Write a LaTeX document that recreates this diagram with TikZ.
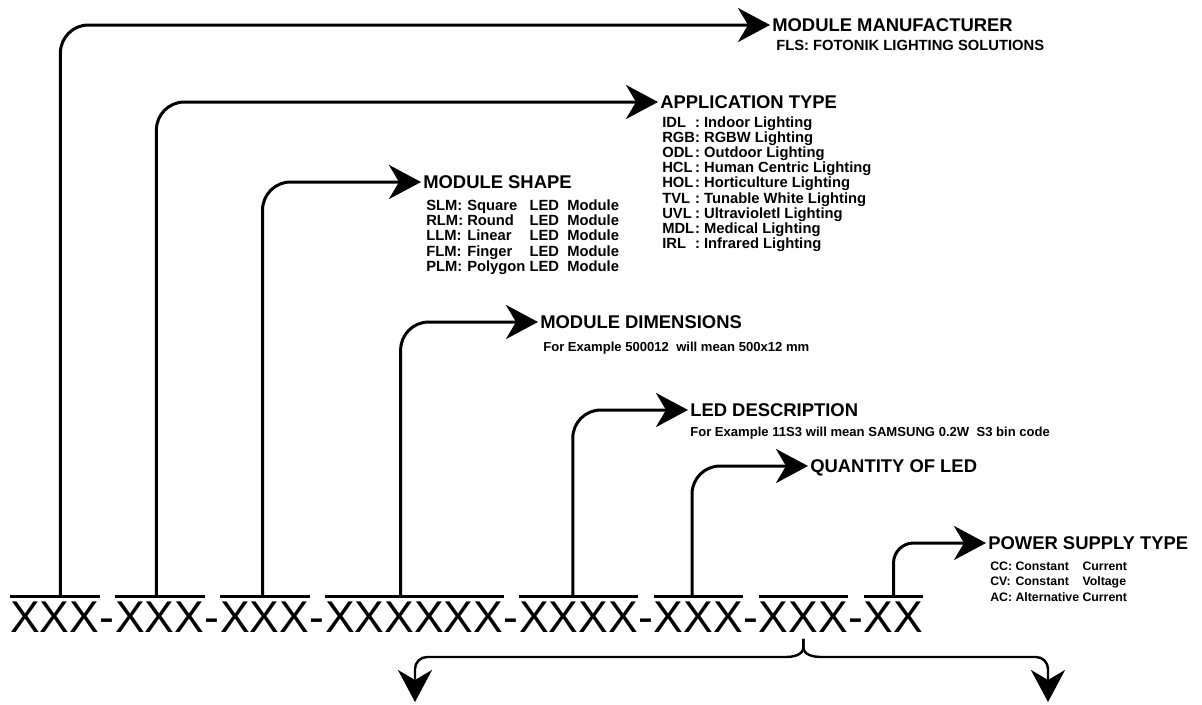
\documentclass[tikz,border=0pt]{standalone}
\usepackage{fontspec}
\setmainfont{Liberation Sans}
\usetikzlibrary{arrows.meta,positioning}
\newcommand{\HeadFont}{\fontsize{13.1pt}{15pt}\selectfont\bfseries}
\newcommand{\ListFont}{\fontsize{10.5pt}{10.75pt}\selectfont\bfseries}
\newcommand{\NoteFont}{\fontsize{9.3pt}{11pt}\selectfont\bfseries}
\newcommand{\PowerFont}{\fontsize{8.75pt}{11pt}\selectfont\bfseries}
\newcommand{\CodeFont}{\fontsize{31.65pt}{32pt}\selectfont}

\begin{document}
\begin{tikzpicture}[x=0.25mm, y=-0.25mm,
  code/.style={font=\CodeFont, inner sep=0pt, text height=22.7pt, text depth=0pt},
  head/.style={font=\HeadFont, anchor=west, inner xsep=0.5mm, inner ysep=0pt, text depth=0pt},
  note/.style={anchor=base west, inner sep=0pt},
  lead/.style={-{Stealth[length=8mm, width=8.5mm, inset=2.5mm]}, line width=0.75mm, rounded corners=7mm},
  bar/.style={line width=0.75mm}
]
\useasboundingbox (0,0) rectangle (1202,704);

% Part number
\node[code, anchor=base west] (g1) at (10,632.7) {XXX};
\node[code, right=0pt of g1] (d1) {-};
\node[code, right=0pt of d1] (g2) {XXX};
\node[code, right=0pt of g2] (d2) {-};
\node[code, right=0pt of d2] (g3) {XXX};
\node[code, right=0pt of g3] (d3) {-};
\node[code, right=0pt of d3] (g4) {XXXXXX};
\node[code, right=0pt of g4] (d4) {-};
\node[code, right=0pt of d4] (g5) {XXXX};
\node[code, right=0pt of g5] (d5) {-};
\node[code, right=0pt of d5] (g6) {XXX};
\node[code, right=0pt of g6] (d6) {-};
\node[code, right=0pt of d6] (g7) {XXX};
\node[code, right=0pt of g7] (d7) {-};
\node[code, right=0pt of d7] (g8) {XX};

% Bars over the groups
\draw[bar] ([yshift=1mm]g1.north west) -- ([yshift=1mm]g1.north east);
\draw[bar] ([yshift=1mm]g2.north west) -- ([yshift=1mm]g2.north east);
\draw[bar] ([yshift=1mm]g3.north west) -- ([yshift=1mm]g3.north east);
\draw[bar] ([yshift=1mm]g4.north west) -- ([yshift=1mm]g4.north east);
\draw[bar] ([yshift=1mm]g5.north west) -- ([yshift=1mm]g5.north east);
\draw[bar] ([yshift=1mm]g6.north west) -- ([yshift=1mm]g6.north east);
\draw[bar] ([yshift=1mm]g7.north west) -- ([yshift=1mm]g7.north east);
\draw[bar] ([yshift=1mm]g8.north west) -- ([yshift=1mm]g8.north east);

% Headings
\node[head] (manuf) at (770,25) {MODULE MANUFACTURER};
\node[head] (apptype) at (658,102) {APPLICATION TYPE};
\node[head] (shape) at (421,182) {MODULE SHAPE};
\node[head] (dims) at (538,322) {MODULE DIMENSIONS};
\node[head] (leddesc) at (688,410) {LED DESCRIPTION};
\node[head] (qty) at (808,466) {QUANTITY OF LED};
\node[head] (power) at (986,543) {POWER SUPPLY TYPE};

% Explanations
\node[note, font=\ListFont] (fls) at (776,50) {FLS: FOTONIK LIGHTING SOLUTIONS};
\node[note, font=\ListFont] (applist) at (662,127) {%
  \begin{tabular}[t]{@{}l@{:\ }l@{}}
  IDL & Indoor Lighting\\
  RGB & RGBW Lighting\\
  ODL & Outdoor Lighting\\
  HCL & Human Centric Lighting\\
  HOL & Horticulture Lighting\\
  TVL & Tunable White Lighting\\
  UVL & Ultravioletl Lighting\\
  MDL & Medical Lighting\\
  IRL & Infrared Lighting
  \end{tabular}};
\node[note, font=\ListFont] (shapelist) at (426,210.5) {%
  \begin{tabular}[t]{@{}l@{\ }l@{\ }l@{\ \ }l@{}}
  SLM: & Square & LED & Module\\
  RLM: & Round & LED & Module\\
  LLM: & Linear & LED & Module\\
  FLM: & Finger & LED & Module\\
  PLM: & Polygon & LED & Module
  \end{tabular}};
\node[note, font=\NoteFont] (dimsnote) at (543,351) {For Example 500012\ \ will mean 500x12 mm};
\node[note, font=\NoteFont] (lednote) at (690,436) {For Example 11S3 will mean SAMSUNG 0.2W\ \ S3 bin code};
\node[note, font=\PowerFont] (powerlist) at (990,570.5) {%
  \begin{tabular}[t]{@{}l@{\ }l@{\ }l@{}}
  CC: & Constant & Current\\
  CV: & Constant & Voltage\\
  AC: & Alternative & Current
  \end{tabular}};

% Leaders from the groups
\draw[lead] ([xshift=1.4mm, yshift=1mm]g1.north) |- (manuf.west);
\draw[lead] ([xshift=-0.85mm, yshift=1mm]g2.north) |- (apptype.west);
\draw[lead] ([xshift=-0.55mm, yshift=1mm]g3.north) |- (shape.west);
\draw[lead] ([xshift=-3.4mm, yshift=1mm]g4.north) |- (dims.west);
\draw[lead] ([xshift=-1.45mm, yshift=1mm]g5.north) |- (leddesc.west);
\draw[lead] ([xshift=-1.6mm, yshift=1mm]g6.north) |- (qty.west);
\draw[lead, rounded corners=5mm] ([yshift=1mm]g8.north) |- (power.west);

% Brace under the seventh group
\coordinate (bt) at ([yshift=-1.5mm]g7.south);
\coordinate (leftend) at (415,702);
\coordinate (rightend) at (1048,702);
\draw[lead, line width=0.6mm, sharp corners] (bt) -- ++(0,8) to[out=-90, in=0] ++(-18,10)
  [rounded corners=3mm] -| (leftend);
\draw[lead, line width=0.6mm, sharp corners] (bt) -- ++(0,8) to[out=-90, in=180] ++(18,10)
  [rounded corners=3mm] -| (rightend);
\end{tikzpicture}
\end{document}
